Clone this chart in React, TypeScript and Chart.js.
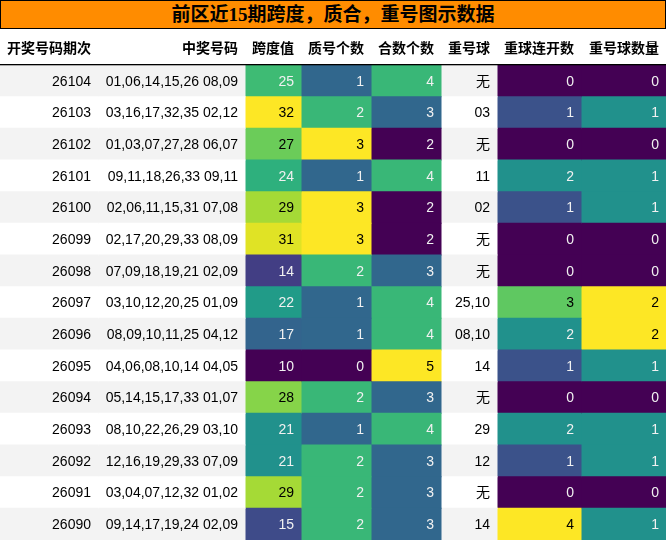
import React, { useEffect, useRef } from 'react';
import { Chart, registerables } from 'chart.js';
import type { ChartConfiguration, Plugin } from 'chart.js';

Chart.register(...registerables);

// ---- data (one row per draw, newest first) ----
const PERIODS = ['26104', '26103', '26102', '26101', '26100', '26099', '26098', '26097', '26096', '26095', '26094', '26093', '26092', '26091', '26090'];
const NUMBERS = [
  '01,06,14,15,26 08,09',
  '03,16,17,32,35 02,12',
  '01,03,07,27,28 06,07',
  '09,11,18,26,33 09,11',
  '02,06,11,15,31 07,08',
  '02,17,20,29,33 08,09',
  '07,09,18,19,21 02,09',
  '03,10,12,20,25 01,09',
  '08,09,10,11,25 04,12',
  '04,06,08,10,14 04,05',
  '05,14,15,17,33 01,07',
  '08,10,22,26,29 03,10',
  '12,16,19,29,33 07,09',
  '03,04,07,12,32 01,02',
  '09,14,17,19,24 02,09',
];
const SPAN = [25, 32, 27, 24, 29, 31, 14, 22, 17, 10, 28, 21, 21, 29, 15];
const PRIME_COUNT = [1, 2, 3, 1, 3, 3, 2, 1, 1, 0, 2, 1, 2, 2, 2];
const COMPOSITE_COUNT = [4, 3, 2, 4, 2, 2, 3, 4, 4, 5, 3, 4, 3, 3, 3];
const REPEAT_BALLS = ['无', '03', '无', '11', '02', '无', '无', '25,10', '08,10', '14', '无', '29', '12', '无', '14'];
const REPEAT_RUN = [0, 1, 0, 2, 1, 0, 0, 3, 2, 1, 0, 2, 1, 0, 4];
const REPEAT_COUNT = [0, 1, 0, 1, 1, 0, 0, 2, 2, 1, 0, 1, 1, 0, 1];

const HEADERS = ['开奖号码期次', '中奖号码', '跨度值', '质号个数', '合数个数', '重号球', '重球连开数', '重号球数量'];

// ---- layout ----
const COL_WIDTHS = [98, 147, 56, 70, 70, 56, 84, 85];
const TOTAL_WIDTH = COL_WIDTHS.reduce((a, b) => a + b, 0);
const HEADER_H = 36;
const PAD_RIGHT = 7;
const STRIPE = '#f3f3f3';

const VIRIDIS = ['#440154', '#482475', '#414487', '#355f8d', '#2a788e', '#21918c', '#22a884', '#44bf70', '#7ad151', '#bddf26', '#fde725'];

const hexToRgb = (h: string) => [1, 3, 5].map((i) => parseInt(h.slice(i, i + 2), 16));

function viridis(t: number): number[] {
  const p = Math.max(0, Math.min(1, t)) * (VIRIDIS.length - 1);
  const i = Math.min(Math.floor(p), VIRIDIS.length - 2);
  const f = p - i;
  const a = hexToRgb(VIRIDIS[i]);
  const b = hexToRgb(VIRIDIS[i + 1]);
  return a.map((v, k) => Math.round(v + (b[k] - v) * f));
}

function luminance(rgb: number[]): number {
  const lin = rgb.map((c) => {
    const s = c / 255;
    return s <= 0.03928 ? s / 12.92 : Math.pow((s + 0.055) / 1.055, 2.4);
  });
  return 0.2126 * lin[0] + 0.7152 * lin[1] + 0.0722 * lin[2];
}

type Column = { texts: string[]; values?: number[] };

const COLUMNS: Column[] = [
  { texts: PERIODS },
  { texts: NUMBERS },
  { texts: SPAN.map(String), values: SPAN },
  { texts: PRIME_COUNT.map(String), values: PRIME_COUNT },
  { texts: COMPOSITE_COUNT.map(String), values: COMPOSITE_COUNT },
  { texts: REPEAT_BALLS },
  { texts: REPEAT_RUN.map(String), values: REPEAT_RUN },
  { texts: REPEAT_COUNT.map(String), values: REPEAT_COUNT },
];

// per-cell background and text colour (gradient per column, like a styled table)
const CELL_STYLE = COLUMNS.map((col) => {
  if (!col.values) {
    return col.texts.map((_, r) => ({ bg: r % 2 === 0 ? STRIPE : '#ffffff', fg: '#000000' }));
  }
  const lo = Math.min(...col.values);
  const hi = Math.max(...col.values);
  return col.values.map((v) => {
    const rgb = viridis(hi === lo ? 0 : (v - lo) / (hi - lo));
    return {
      bg: `rgb(${rgb[0]},${rgb[1]},${rgb[2]})`,
      fg: luminance(rgb) > 0.408 ? '#000000' : '#f1f1f1',
    };
  });
});

const BODY_FONT = '14px "Liberation Sans", "Noto Sans CJK SC", sans-serif';
const HEAD_FONT = 'bold 14px "Noto Sans CJK SC", "Liberation Sans", sans-serif';

const tableText: Plugin<'bar'> = {
  id: 'tableText',
  afterDatasetsDraw(chart) {
    const { ctx, chartArea } = chart;
    ctx.save();
    ctx.textAlign = 'right';
    ctx.textBaseline = 'middle';

    // header row
    ctx.font = HEAD_FONT;
    ctx.fillStyle = '#000000';
    COLUMNS.forEach((_, ci) => {
      const bar: any = chart.getDatasetMeta(ci).data[0];
      ctx.fillText(HEADERS[ci], bar.x - PAD_RIGHT, chartArea.top / 2 + 1);
    });
    ctx.fillRect(0, chartArea.top - 1, chart.width, 1.3);

    // cells
    ctx.font = BODY_FONT;
    COLUMNS.forEach((col, ci) => {
      const meta = chart.getDatasetMeta(ci);
      meta.data.forEach((el: any, ri) => {
        ctx.fillStyle = CELL_STYLE[ci][ri].fg;
        ctx.fillText(col.texts[ri], el.x - PAD_RIGHT, el.y + 1);
      });
    });
    ctx.restore();
  },
};

const TableChart: React.FC = () => {
  const canvasRef = useRef<HTMLCanvasElement>(null);
  const chartRef = useRef<Chart | null>(null);

  useEffect(() => {
    document.body.style.margin = '0';
    if (!canvasRef.current) return;
    if (chartRef.current) chartRef.current.destroy();

    const config: ChartConfiguration<'bar'> = {
      type: 'bar',
      data: {
        labels: PERIODS,
        datasets: COLUMNS.map((_, ci) => ({
          label: HEADERS[ci],
          data: PERIODS.map(() => COL_WIDTHS[ci]),
          backgroundColor: CELL_STYLE[ci].map((s) => s.bg),
          borderWidth: 0,
          barPercentage: 1,
          categoryPercentage: 1,
          inflateAmount: 0.5,
        })),
      },
      options: {
        indexAxis: 'y',
        responsive: true,
        maintainAspectRatio: false,
        animation: false,
        layout: { padding: { top: HEADER_H, left: 0, right: 0, bottom: 0 } },
        scales: {
          x: { stacked: true, min: 0, max: TOTAL_WIDTH, display: false },
          y: { stacked: true, display: false },
        },
        plugins: {
          legend: { display: false },
          tooltip: { enabled: false },
        },
      },
      plugins: [tableText],
    };

    chartRef.current = new Chart(canvasRef.current, config);
    return () => {
      if (chartRef.current) {
        chartRef.current.destroy();
        chartRef.current = null;
      }
    };
  }, []);

  return (
    <div style={{ width: 666, background: '#ffffff' }}>
      <div
        style={{
          boxSizing: 'border-box',
          width: 666,
          height: 29,
          border: '1px solid #000',
          background: '#ff8c00',
          textAlign: 'center',
          font: 'bold 19px "Liberation Serif", "Noto Sans CJK SC", serif',
          lineHeight: '27px',
          color: '#000',
        }}
      >
        前区近15期跨度，质合，重号图示数据
      </div>
      <div style={{ position: 'relative', width: 666, height: 511 }}>
        <canvas ref={canvasRef}></canvas>
      </div>
    </div>
  );
};

export default function App() {
  return <TableChart />;
}
